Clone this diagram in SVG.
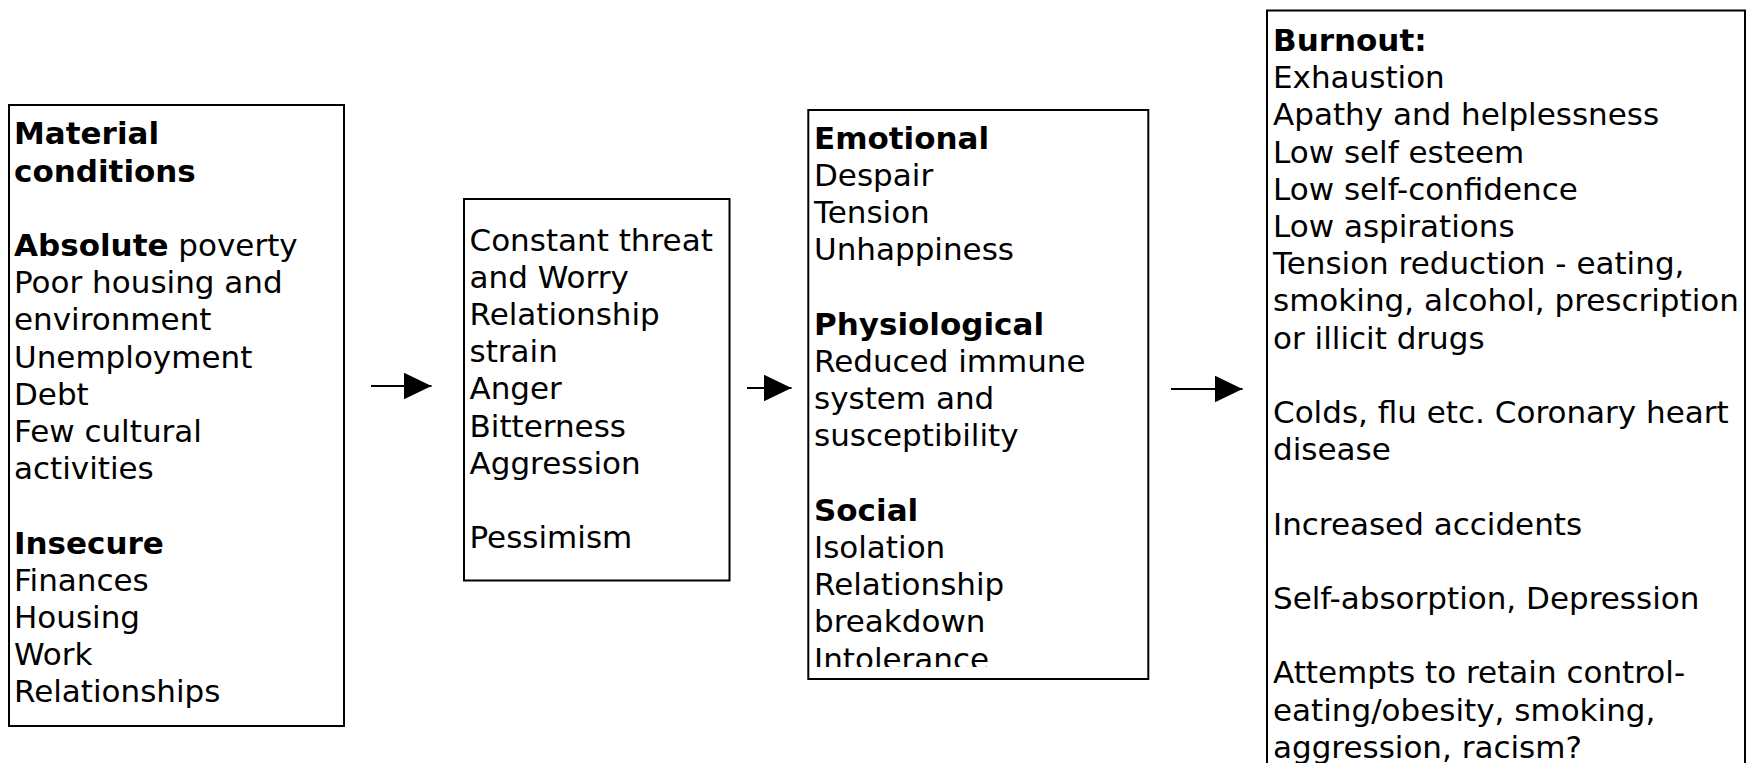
<svg xmlns="http://www.w3.org/2000/svg" width="1758" height="763" viewBox="0 0 1758 763">
<style>
.box{fill:#fff;stroke:#000;stroke-width:2}
.t{font-family:"DejaVu Sans","Liberation Sans",sans-serif;font-size:31px;fill:#000}
.b{font-weight:bold}
.conn{stroke:#000;stroke-width:2;fill:none}
</style>
<defs>
<marker id="ah" markerUnits="userSpaceOnUse" markerWidth="28" markerHeight="27" refX="28" refY="13.5" orient="auto">
<path d="M0,0 L28,13.5 L0,27 Z" fill="#000"/>
</marker>
<clipPath id="c1"><rect x="9" y="105" width="335" height="613"/></clipPath>
<clipPath id="c2"><rect x="464" y="199" width="266" height="381"/></clipPath>
<clipPath id="c3"><rect x="808" y="110" width="340" height="557"/></clipPath>
</defs>
<g id="connectors">
<line class="conn" x1="371" y1="386" x2="431.5" y2="386" marker-end="url(#ah)"/>
<line class="conn" x1="747" y1="388" x2="791.5" y2="388" marker-end="url(#ah)"/>
<line class="conn" x1="1171" y1="389" x2="1242.5" y2="389" marker-end="url(#ah)"/>
</g>
<g id="material">
<rect class="box" x="9" y="105" width="335" height="621"/>
<g clip-path="url(#c1)">
<text class="t" x="14" y="144.3">
<tspan class="b" x="14" y="144.3">Material</tspan>
<tspan class="b" x="14" y="181.5">conditions</tspan>
<tspan x="14" y="255.9"><tspan class="b">Absolute</tspan> poverty</tspan>
<tspan x="14" y="293.1">Poor housing and</tspan>
<tspan x="14" y="330.3">environment</tspan>
<tspan x="14" y="367.5">Unemployment</tspan>
<tspan x="14" y="404.7">Debt</tspan>
<tspan x="14" y="441.9">Few cultural</tspan>
<tspan x="14" y="479.1">activities</tspan>
<tspan class="b" x="14" y="553.5">Insecure</tspan>
<tspan x="14" y="590.7">Finances</tspan>
<tspan x="14" y="627.9">Housing</tspan>
<tspan x="14" y="665.1">Work</tspan>
<tspan x="14" y="702.3">Relationships</tspan>
</text>
</g>
</g>
<g id="threat">
<rect class="box" x="464" y="199" width="265.5" height="381.5"/>
<g clip-path="url(#c2)">
<text class="t">
<tspan x="469.5" y="250.5">Constant threat</tspan>
<tspan x="469.5" y="287.7">and Worry</tspan>
<tspan x="469.5" y="324.9">Relationship</tspan>
<tspan x="469.5" y="362.1">strain</tspan>
<tspan x="469.5" y="399.3">Anger</tspan>
<tspan x="469.5" y="436.5">Bitterness</tspan>
<tspan x="469.5" y="473.7">Aggression</tspan>
<tspan x="469.5" y="548.1">Pessimism</tspan>
</text>
</g>
</g>
<g id="effects">
<rect class="box" x="808.3" y="110" width="340" height="569"/>
<g clip-path="url(#c3)">
<text class="t">
<tspan class="b" x="814" y="148.8">Emotional</tspan>
<tspan x="814" y="186">Despair</tspan>
<tspan x="814" y="223.2">Tension</tspan>
<tspan x="814" y="260.4">Unhappiness</tspan>
<tspan class="b" x="814" y="334.8">Physiological</tspan>
<tspan x="814" y="372">Reduced immune</tspan>
<tspan x="814" y="409.2">system and</tspan>
<tspan x="814" y="446.4">susceptibility</tspan>
<tspan class="b" x="814" y="520.8">Social</tspan>
<tspan x="814" y="558">Isolation</tspan>
<tspan x="814" y="595.2">Relationship</tspan>
<tspan x="814" y="632.4">breakdown</tspan>
<tspan x="814" y="669.6">Intolerance</tspan>
</text>
</g>
</g>
<g id="burnout">
<rect class="box" x="1267" y="10.5" width="478" height="800"/>
<text class="t">
<tspan class="b" x="1273" y="51">Burnout:</tspan>
<tspan x="1273" y="88.2">Exhaustion</tspan>
<tspan x="1273" y="125.4">Apathy and helplessness</tspan>
<tspan x="1273" y="162.6">Low self esteem</tspan>
<tspan x="1273" y="199.8">Low self-confidence</tspan>
<tspan x="1273" y="237">Low aspirations</tspan>
<tspan x="1273" y="274.2">Tension reduction - eating,</tspan>
<tspan x="1273" y="311.4">smoking, alcohol, prescription</tspan>
<tspan x="1273" y="348.6">or illicit drugs</tspan>
<tspan x="1273" y="423">Colds, flu etc. Coronary heart</tspan>
<tspan x="1273" y="460.2">disease</tspan>
<tspan x="1273" y="534.6">Increased accidents</tspan>
<tspan x="1273" y="609">Self-absorption, Depression</tspan>
<tspan x="1273" y="683.4">Attempts to retain control-</tspan>
<tspan x="1273" y="720.6">eating/obesity, smoking,</tspan>
<tspan x="1273" y="757.8">aggression, racism?</tspan>
</text>
</g>
</svg>
